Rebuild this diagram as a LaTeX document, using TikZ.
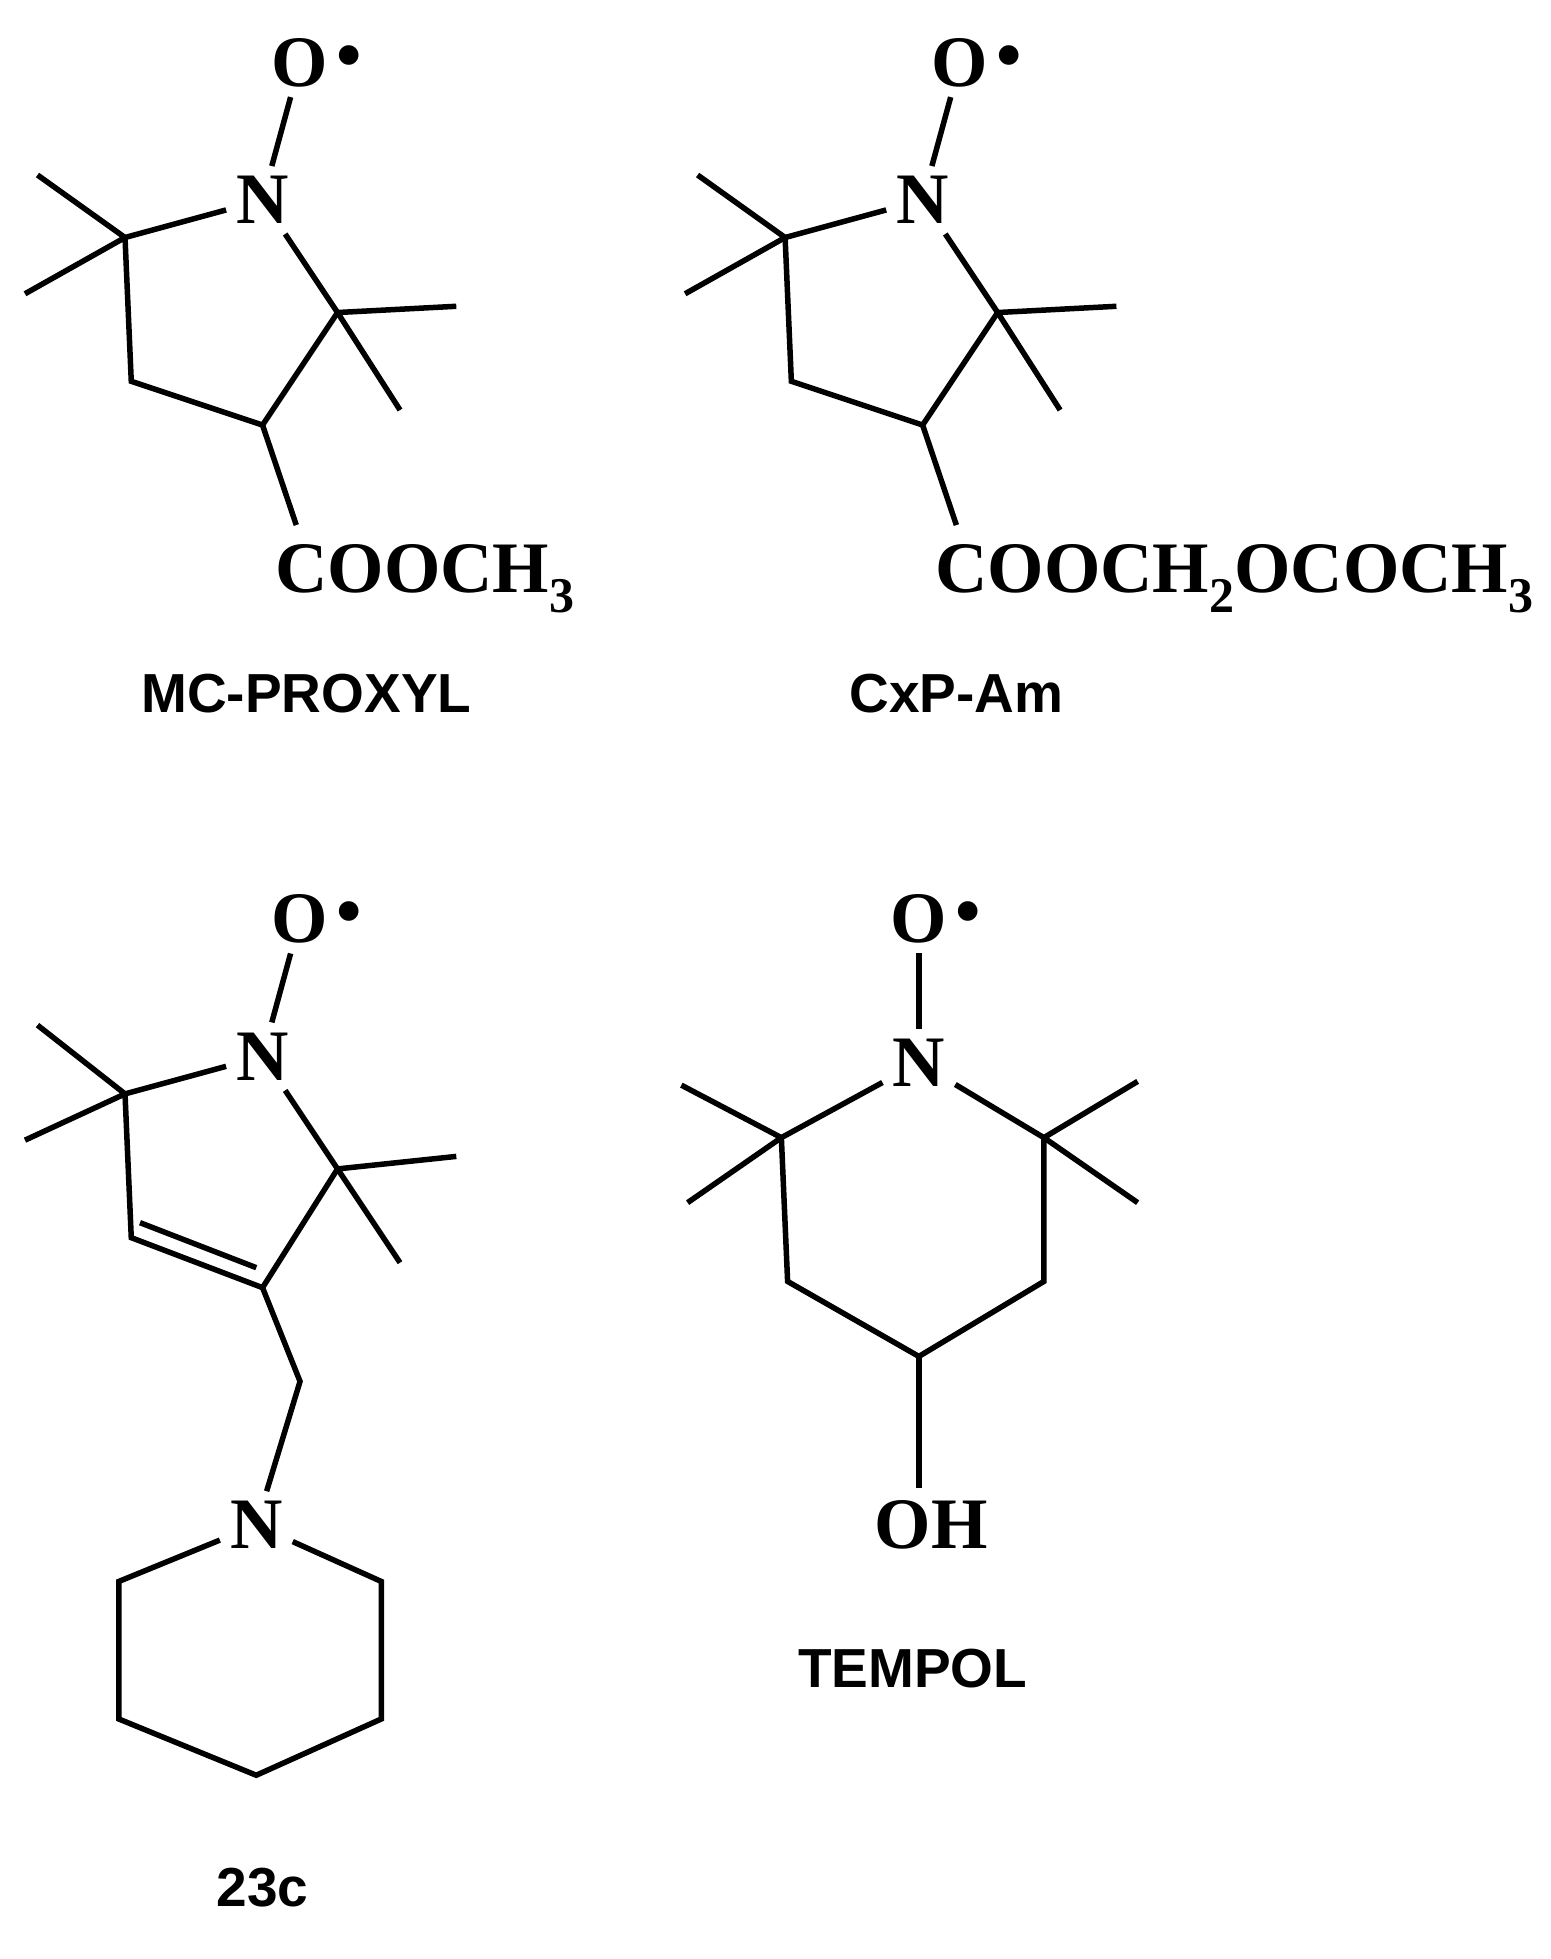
\documentclass[tikz,border=0pt]{standalone}
\usepackage{fontspec}
\setmainfont{Liberation Serif}
\newfontfamily\lab{Liberation Sans}
\newcommand{\mysub}[1]{\raisebox{-0.28em}{\fontsize{20}{20}\selectfont\bfseries #1}}
\begin{document}
\begin{tikzpicture}[x=0.5pt,y=-0.5pt,line width=2.2pt,
 atom/.style={font=\fontsize{29}{30}\selectfont\bfseries,inner sep=3pt},
 rad/.style={font=\fontsize{29}{30}\selectfont\bfseries,inner sep=0pt,anchor=west,xshift=-2pt},
 molname/.style={font=\lab\fontsize{22}{24}\selectfont\bfseries},
 bd/.style={line width=2.2pt}]
\useasboundingbox (0,0) rectangle (1240,1567);
% MC-PROXYL
\begin{scope}
\node[atom] (o1) at (240,50) {O};
\node[rad] at (o1.east) {•};
\node[atom] (n1) at (210,160) {N};
\coordinate (a1) at (100,190); \coordinate (b1) at (105,305);
\coordinate (c1) at (210,340); \coordinate (d1) at (270,250);
\draw[bd] (o1) -- (n1); \draw[bd] (n1) -- (a1) -- (b1) -- (c1) -- (d1) -- (n1);
\draw[bd] (a1) -- (30,140) (a1) -- (20,235) (d1) -- (365,245) (d1) -- (320,328);
\coordinate (e1) at (237,420); \draw[bd] (c1) -- (e1);
\node[atom,anchor=west] (t1) at (212,463) {COOCH\mysub{3}};
\node[molname] (l1) at (245,555) {MC-PROXYL};
\end{scope}
% CxP-Am
\begin{scope}
\node[atom] (o2) at (768,50) {O};
\node[rad] at (o2.east) {•};
\node[atom] (n2) at (738,160) {N};
\coordinate (a2) at (628,190); \coordinate (b2) at (633,305);
\coordinate (c2) at (738,340); \coordinate (d2) at (798,250);
\draw[bd] (o2) -- (n2); \draw[bd] (n2) -- (a2) -- (b2) -- (c2) -- (d2) -- (n2);
\draw[bd] (a2) -- (558,140) (a2) -- (548,235) (d2) -- (893,245) (d2) -- (848,328);
\coordinate (e2) at (765,420); \draw[bd] (c2) -- (e2);
\node[atom,anchor=west] (t2) at (740,463) {COOCH\mysub{2}OCOCH\mysub{3}};
\node[molname] (l2) at (765,555) {CxP-Am};
\end{scope}
% 23c
\begin{scope}
\node[atom] (o3) at (240,735) {O};
\node[rad] at (o3.east) {•};
\node[atom] (n3) at (210,845) {N};
\coordinate (a3) at (100,875); \coordinate (b3) at (105,990);
\coordinate (c3) at (210,1030); \coordinate (d3) at (270,935);
\draw[bd] (o3) -- (n3); \draw[bd] (n3) -- (a3) -- (b3) -- (c3) -- (d3) -- (n3);
\draw[bd] (112,978) -- (205,1014);
\draw[bd] (a3) -- (30,820) (a3) -- (20,912) (d3) -- (365,925) (d3) -- (320,1010);
\coordinate (f3) at (240,1105);
\node[atom] (m3) at (205,1220) {N};
\draw[bd] (c3) -- (f3) -- (m3);
\coordinate (p1) at (95,1265); \coordinate (p2) at (95,1375);
\coordinate (p3) at (205,1420); \coordinate (p4) at (305,1375); \coordinate (p5) at (305,1265);
\draw[bd] (m3) -- (p1) -- (p2) -- (p3) -- (p4) -- (p5) -- (m3);
\node[molname] (l3) at (210,1510) {23c};
\end{scope}
% TEMPOL
\begin{scope}
\node[atom] (o4) at (735,735) {O};
\node[rad] at (o4.east) {•};
\node[atom] (n4) at (735,850) {N};
\coordinate (a4) at (625,910); \coordinate (b4) at (630,1025);
\coordinate (c4) at (735,1085); \coordinate (d4) at (835,1025); \coordinate (e4) at (835,910);
\draw[bd] (o4) -- (n4); \draw[bd] (n4) -- (a4) -- (b4) -- (c4) -- (d4) -- (e4) -- (n4);
\draw[bd] (a4) -- (545,868) (a4) -- (550,962) (e4) -- (910,865) (e4) -- (910,962);
\node[atom] (oh) at (745,1220) {OH};
\draw[bd] (c4) -- (735,1190);
\node[molname] (l4) at (730,1335) {TEMPOL};
\end{scope}
\end{tikzpicture}
\end{document}
